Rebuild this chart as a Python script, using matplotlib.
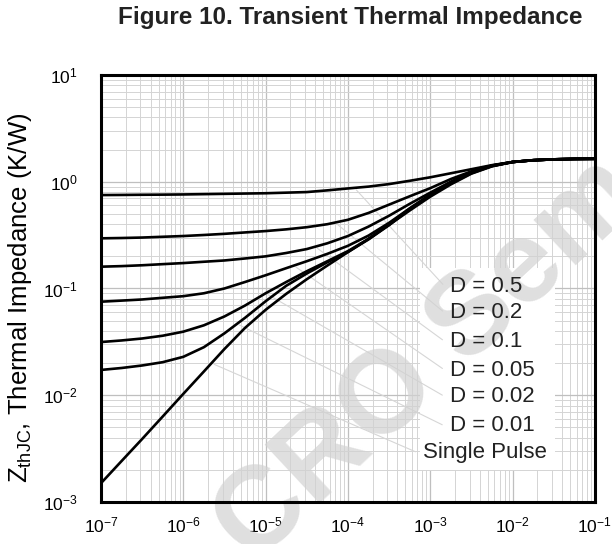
import numpy as np
import matplotlib
matplotlib.use("Agg")
import matplotlib.pyplot as plt

plt.rcParams['font.family'] = ['Liberation Sans', 'DejaVu Sans']
plt.rcParams['mathtext.default'] = 'regular'

# pulse width (s), quarter-decade steps from 1e-7 to 1e-1
t = [1e-7, 1.78e-7, 3.16e-7, 5.62e-7,
     1e-6, 1.78e-6, 3.16e-6, 5.62e-6,
     1e-5, 1.78e-5, 3.16e-5, 5.62e-5,
     1e-4, 1.78e-4, 3.16e-4, 5.62e-4,
     1e-3, 1.78e-3, 3.16e-3, 5.62e-3,
     1e-2, 1.78e-2, 3.16e-2, 5.62e-2, 1e-1]

# Z_thJC (K/W)
z_d05 = [0.75, 0.752, 0.755, 0.757, 0.76, 0.765, 0.77, 0.775, 0.78, 0.79, 0.80, 0.83,
         0.865, 0.90, 0.95, 1.02, 1.10, 1.20, 1.31, 1.43, 1.53, 1.59, 1.62, 1.635, 1.64]
z_d02 = [0.295, 0.297, 0.30, 0.305, 0.31, 0.317, 0.325, 0.335, 0.345, 0.358, 0.375, 0.40,
         0.44, 0.51, 0.61, 0.73, 0.87, 1.06, 1.25, 1.42, 1.53, 1.59, 1.62, 1.635, 1.64]
z_d01 = [0.16, 0.162, 0.165, 0.169, 0.173, 0.178, 0.183, 0.191, 0.20, 0.215, 0.234, 0.265,
         0.31, 0.38, 0.48, 0.62, 0.79, 1.0, 1.235, 1.415, 1.53, 1.59, 1.62, 1.635, 1.64]
z_d005 = [0.0752, 0.077, 0.0789, 0.0818, 0.0847, 0.0902, 0.100, 0.115, 0.133, 0.155, 0.180,
          0.211, 0.251, 0.313, 0.412, 0.562, 0.759, 0.989, 1.23, 1.41, 1.53, 1.59, 1.62,
          1.635, 1.64]
z_d002 = [0.0315, 0.0326, 0.034, 0.0361, 0.0394, 0.0452, 0.0547, 0.0692, 0.0902, 0.115,
          0.145, 0.180, 0.224, 0.291, 0.398, 0.56, 0.75, 0.977, 1.216, 1.406, 1.53, 1.59,
          1.62, 1.635, 1.64]
z_d001 = [0.01726, 0.018, 0.019, 0.0204, 0.0229, 0.0282, 0.038, 0.0531, 0.0759, 0.106,
          0.138, 0.176, 0.22, 0.288, 0.392, 0.553, 0.741, 0.966, 1.20, 1.40, 1.53, 1.59,
          1.62, 1.635, 1.64]
z_single = [0.0015, 0.00242, 0.00389, 0.00632, 0.0103, 0.0167, 0.0271, 0.0427, 0.0631,
            0.0891, 0.122, 0.164, 0.219, 0.292, 0.394, 0.537, 0.724, 0.944, 1.19, 1.393,
            1.53, 1.59, 1.62, 1.635, 1.64]

curves = [z_d05, z_d02, z_d01, z_d005, z_d002, z_d001, z_single]
labels = ["D = 0.5", "D = 0.2", "D = 0.1", "D = 0.05", "D = 0.02", "D = 0.01", "Single Pulse"]
# where each leader line touches its curve (s)
leader_t = [1.2e-4, 7e-5, 4e-5, 2.2e-5, 1e-5, 4.5e-6, 2.2e-6]

fig = plt.figure(figsize=(6.12, 5.44), dpi=100)
ax = fig.add_axes([0.165, 0.0772, 0.807, 0.785])

ax.set_xscale('log')
ax.set_yscale('log')
ax.set_xlim(1e-7, 1e-1)
ax.set_ylim(1e-3, 1e1)

ax.grid(True, which='major', color='#bfbfbf', lw=0.9)
ax.grid(True, which='minor', color='#d4d4d4', lw=0.7)
ax.set_axisbelow(True)

for z in curves:
    ax.plot(t, z, color='black', lw=1.9, zorder=3)

# white panel behind labels
ax.add_patch(plt.Rectangle((0.646, 0.075), 0.273, 0.473, transform=ax.transAxes,
                           facecolor='white', edgecolor='none', zorder=2))

# watermark, under the labels
ax.text(0.665, 0.33, 'CRO Sem', transform=ax.transAxes, fontsize=84, fontweight='bold',
        color='#d2d2d2', alpha=0.7, rotation=43, ha='center', va='center',
        rotation_mode='anchor', clip_on=False, zorder=2.5)

label_y = [0.505, 0.443, 0.376, 0.309, 0.247, 0.178, 0.115]
for i, lab in enumerate(labels):
    lx = 0.652 if lab == "Single Pulse" else 0.706
    ax.text(lx, label_y[i], lab, transform=ax.transAxes, fontsize=16,
            ha='left', va='center', color='#222222', zorder=4)
    zc = 10 ** np.interp(np.log10(leader_t[i]), np.log10(t), np.log10(curves[i]))
    ax.annotate('', xy=(leader_t[i], zc), xycoords='data',
                xytext=(lx - 0.01, label_y[i]), textcoords='axes fraction',
                arrowprops=dict(arrowstyle='-', color='#d6d6d6', lw=0.8), zorder=2)

for s in ax.spines.values():
    s.set_linewidth(2.2)
ax.tick_params(which='both', length=0)
ax.tick_params(axis='y', labelsize=12.5, pad=17)
ax.tick_params(axis='x', labelsize=12.5, pad=10)

ax.set_ylabel(r'Z$_{thJC}$, Thermal Impedance (K/W)', fontsize=18.5)
ax.yaxis.set_label_coords(-0.135, 0.478)
fig.text(0.572, 0.967, 'Figure 10. Transient Thermal Impedance', fontsize=17.5,
         fontweight='bold', ha='center', va='center', color='#222222')

fig.savefig('out.png', dpi=100)
